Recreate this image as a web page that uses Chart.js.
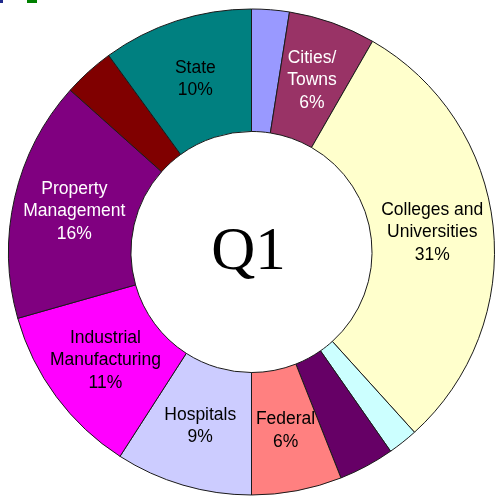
<!DOCTYPE html>
<html>
<head>
<meta charset="utf-8">
<script src="https://cdn.jsdelivr.net/npm/chart.js@4.4.0/dist/chart.umd.min.js"></script>
<style>
html,body{margin:0;padding:0;background:#fff;overflow:hidden;}
#wrap{position:relative;width:495px;height:499px;}
.frag{position:absolute;top:0;height:3px;}
</style>
</head>
<body>
<div id="wrap">
<canvas id="c" width="495" height="499"></canvas>
<div class="frag" style="left:0;width:3px;background:#1f2a8c"></div>
<div class="frag" style="left:27px;width:10px;background:#008000"></div>
</div>
<script>
const categories = ["", "Cities/Towns", "Colleges and Universities", "", "", "Federal", "Hospitals", "Industrial Manufacturing", "Property Management", "", "State"];
const values = [2.5, 5.8, 30, 2, 3.7, 6, 9.1, 11.5, 16, 3.4, 10];
const labelLines = [[], ["Cities/", "Towns", "6%"], ["Colleges and", "Universities", "31%"], [], [], ["Federal", "6%"], ["Hospitals", "9%"], ["Industrial", "Manufacturing", "11%"], ["Property", "Management", "16%"], [], ["State", "10%"]];
const colors = ["#9999FF", "#993366", "#FFFFCC", "#CCFFFF", "#660066", "#FF8080", "#CCCCFF", "#FF00FF", "#800080", "#800000", "#008080"];
const textColors = ["#000", "#fff", "#000", "#000", "#000", "#000", "#000", "#000", "#fff", "#000", "#000"];
const centerText = "Q1";

const labelPlugin = {
  id: 'sliceLabels',
  afterDatasetsDraw(chart) {
    const ctx = chart.ctx;
    const meta = chart.getDatasetMeta(0);
    ctx.save();
    ctx.font = '17.5px "Liberation Sans", Arial, sans-serif';
    ctx.textAlign = 'center';
    ctx.textBaseline = 'middle';
    meta.data.forEach((arc, i) => {
      const lines = labelLines[i];
      if (!lines.length) return;
      const p = arc.tooltipPosition();
      const lh = 22.5;
      const y0 = p.y - (lines.length - 1) * lh / 2;
      ctx.fillStyle = textColors[i];
      lines.forEach((t, k) => ctx.fillText(t, p.x, y0 + k * lh));
    });
    const a = meta.data[0];
    ctx.font = '61px "Liberation Serif", "Times New Roman", serif';
    ctx.fillStyle = '#000';
    ctx.textBaseline = 'alphabetic';
    ctx.fillText(centerText, a.x - 3, a.y + 17);
    ctx.restore();
  }
};

new Chart(document.getElementById('c'), {
  type: 'doughnut',
  data: {
    labels: categories,
    datasets: [{
      data: values,
      backgroundColor: colors,
      borderColor: '#1a1a1a',
      borderWidth: 1,
      borderAlign: 'center'
    }]
  },
  options: {
    responsive: false,
    animation: false,
    cutout: '49.6%',
    layout: { padding: { left: 8, right: 0, top: 8, bottom: 3 } },
    plugins: { legend: { display: false }, tooltip: { enabled: false } }
  },
  plugins: [labelPlugin]
});
</script>
</body>
</html>
